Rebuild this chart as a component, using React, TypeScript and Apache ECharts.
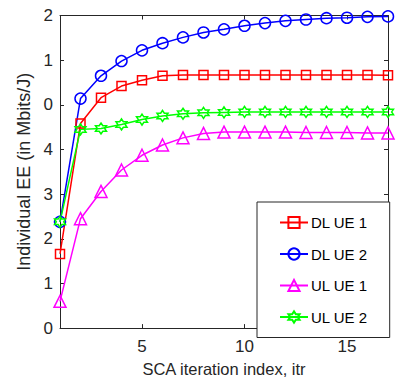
import React, { useEffect, useRef } from "react";
import * as echarts from "echarts";

const iterations = [1, 2, 3, 4, 5, 6, 7, 8, 9, 10, 11, 12, 13, 14, 15, 16, 17];
const dlUe1 = [1.66, 4.58, 5.16, 5.42, 5.55, 5.65, 5.67, 5.67, 5.67, 5.67, 5.67, 5.67, 5.67, 5.67, 5.67, 5.67, 5.66];
const dlUe2 = [2.38, 5.14, 5.65, 5.98, 6.22, 6.38, 6.51, 6.62, 6.69, 6.77, 6.83, 6.88, 6.91, 6.94, 6.95, 6.97, 6.98];
const ulUe1 = [0.6, 2.45, 3.06, 3.54, 3.87, 4.1, 4.26, 4.36, 4.39, 4.39, 4.39, 4.39, 4.38, 4.38, 4.38, 4.37, 4.37];
const ulUe2 = [2.38, 4.45, 4.47, 4.56, 4.67, 4.75, 4.8, 4.82, 4.83, 4.84, 4.84, 4.84, 4.84, 4.84, 4.84, 4.84, 4.84];
const yTickLabels = ["0", "1", "2", "3", "4", "0", "1", "2"];
const xTickValues = [5, 10, 15];
const seriesNames = ["DL UE 1", "DL UE 2", "UL UE 1", "UL UE 2"];

const HEX = "path://M50 0 L64.4 25 L93.3 25 L78.9 50 L93.3 75 L64.4 75 L50 100 L35.6 75 L6.7 75 L21.1 50 L6.7 25 L35.6 25 Z";

export default function App() {
  const ref = useRef<HTMLDivElement>(null);
  useEffect(() => {
    if (!ref.current) return;
    const chart = echarts.init(ref.current, null, { renderer: "svg" });
    const font = "'Liberation Sans', Arial, sans-serif";
    const textColor = "#262626";
    const axisColor = "#262626";
    const mk = (name: string, data: number[], color: string, symbol: string, size: number) => ({
      name,
      type: "line",
      data: iterations.map((x, i) => [x, data[i]]),
      symbol,
      symbolSize: size,
      showAllSymbol: true,
      lineStyle: { color, width: 1.5 },
      itemStyle: { color: "rgba(255,255,255,0)", borderColor: color, borderWidth: 1.5 },
      emphasis: { disabled: true },
      z: 3,
    });
    chart.setOption({
      animation: false,
      textStyle: { fontFamily: font },
      grid: { left: 60, top: 15.5, right: 8, bottom: 51, containLabel: false },
      legend: {
        orient: "vertical",
        left: 257,
        top: 202,
        data: seriesNames,
        itemWidth: 28,
        itemHeight: 14,
        itemGap: 16.5,
        padding: [13, 22, 13, 22],
        borderColor: axisColor,
        borderWidth: 1,
        backgroundColor: "#fff",
        textStyle: { fontSize: 15, color: "#000", fontFamily: font, padding: [0, 0, 0, -2] },
        selectedMode: false,
        z: 10,
      },
      xAxis: [
        {
          type: "value",
          min: 1,
          max: 17,
          name: "SCA iteration index, itr",
          nameLocation: "middle",
          nameGap: 29,
          nameTextStyle: { fontSize: 16.5, color: textColor, fontFamily: font },
          axisLine: { show: true, onZero: false, lineStyle: { color: axisColor, width: 1 } },
          axisTick: { show: true, inside: true, length: 4, customValues: xTickValues, lineStyle: { color: axisColor } },
          axisLabel: { show: true, customValues: xTickValues, fontSize: 17, color: textColor, margin: 10, fontFamily: font },
          splitLine: { show: false },
        },
        {
          type: "value",
          position: "top",
          min: 1,
          max: 17,
          axisLine: { show: true, onZero: false, lineStyle: { color: axisColor, width: 1 } },
          axisTick: { show: true, inside: true, length: 4, customValues: xTickValues, lineStyle: { color: axisColor } },
          axisLabel: { show: false },
          splitLine: { show: false },
        },
      ],
      yAxis: [
        {
          type: "value",
          min: 0,
          max: 7,
          interval: 1,
          name: "Individual EE (in Mbits/J)",
          nameLocation: "middle",
          nameGap: 27,
          nameTextStyle: { fontSize: 18, color: textColor, fontFamily: font },
          axisLine: { show: true, onZero: false, lineStyle: { color: axisColor, width: 1 } },
          axisTick: { show: true, inside: true, length: 4, lineStyle: { color: axisColor } },
          axisLabel: {
            fontSize: 17,
            color: textColor,
            margin: 7,
            fontFamily: font,
            formatter: (v: number) => yTickLabels[Math.round(v)] ?? "",
          },
          splitLine: { show: false },
        },
        {
          type: "value",
          position: "right",
          min: 0,
          max: 7,
          interval: 1,
          axisLine: { show: true, onZero: false, lineStyle: { color: axisColor, width: 1 } },
          axisTick: { show: true, inside: true, length: 4, lineStyle: { color: axisColor } },
          axisLabel: { show: false },
          splitLine: { show: false },
        },
      ],
      series: [
        mk(seriesNames[0], dlUe1, "#ff0000", "rect", 9),
        mk(seriesNames[1], dlUe2, "#0000ff", "circle", 11),
        mk(seriesNames[2], ulUe1, "#ff00ff", "triangle", 12),
        mk(seriesNames[3], ulUe2, "#00ff00", HEX, 11),
      ],
    });
    return () => chart.dispose();
  }, []);
  return <div ref={ref} style={{ width: 396, height: 382, position: "absolute", left: 0, top: 0, background: "#fff" }} />;
}
